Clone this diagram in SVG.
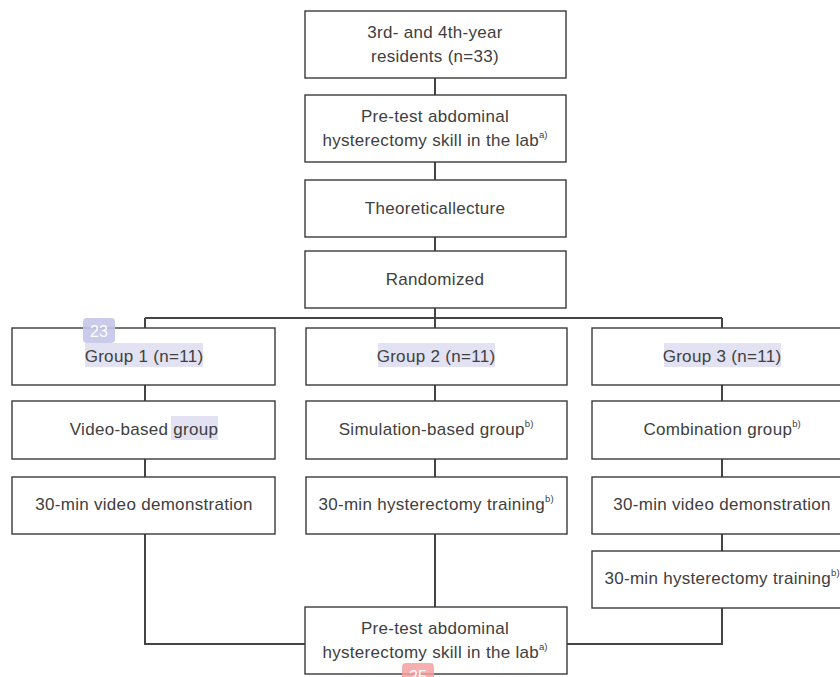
<svg xmlns="http://www.w3.org/2000/svg" width="840" height="677" viewBox="0 0 840 677">
<style>
.box{fill:#fff;stroke:#3a3a3a;stroke-width:1.4}
.t{font-family:"Liberation Sans","DejaVu Sans",sans-serif;font-size:17px;letter-spacing:0.3px;fill:#404040;text-anchor:middle}
.sup{font-size:9.5px;letter-spacing:0}
.ln{fill:none;stroke:#444;stroke-width:2}
.hl{fill:#e2e2f2}
</style>
<rect width="840" height="677" fill="#fff"/>
<g id="connectors">
<path class="ln" d="M435 78V95M435 162V180M435 237V251M435 308V318M145 318H722M145 318V328M435 318V328M722 318V328"/>
<path class="ln" d="M145 385V401M435 385V401M722 385V401M145 459V477M435 459V477M722 459V477M722 534V551"/>
<path class="ln" d="M145 534V644H306M435 534V607M722 608V644H567"/>
</g>
<g id="n1"><rect class="box" x="305" y="11" width="261" height="67"/><text class="t" x="435" y="38">3rd- and 4th-year</text><text class="t" x="435" y="62">residents (n=33)</text></g>
<g id="n2"><rect class="box" x="305" y="95" width="261" height="67"/><text class="t" x="435" y="122">Pre-test abdominal</text><text class="t" x="435" y="146">hysterectomy skill in the lab<tspan class="sup" dy="-8">a)</tspan></text></g>
<g id="n3"><rect class="box" x="305" y="180" width="261" height="57"/><text class="t" x="435" y="214">Theoreticallecture</text></g>
<g id="n4"><rect class="box" x="305" y="251" width="261" height="57"/><text class="t" x="435" y="285">Randomized</text></g>
<g id="g1"><rect class="box" x="12" y="328" width="263" height="57"/><rect class="hl" x="85" y="343" width="118" height="24"/><text class="t" x="144" y="362">Group 1 (n=11)</text></g>
<g id="g2"><rect class="box" x="306" y="328" width="261" height="57"/><rect class="hl" x="378" y="343" width="117" height="24"/><text class="t" x="436" y="362">Group 2 (n=11)</text></g>
<g id="g3"><rect class="box" x="592" y="328" width="260" height="57"/><rect class="hl" x="664" y="343" width="117" height="24"/><text class="t" x="722" y="362">Group 3 (n=11)</text></g>
<g id="v1"><rect class="box" x="12" y="401" width="263" height="58"/><rect class="hl" x="171" y="416" width="47" height="24"/><text class="t" x="144" y="435">Video-based group</text></g>
<g id="v2"><rect class="box" x="306" y="401" width="261" height="58"/><text class="t" x="436" y="435">Simulation-based group<tspan class="sup" dy="-8">b)</tspan></text></g>
<g id="v3"><rect class="box" x="592" y="401" width="260" height="58"/><text class="t" x="722" y="435">Combination group<tspan class="sup" dy="-8">b)</tspan></text></g>
<g id="w1"><rect class="box" x="12" y="477" width="263" height="57"/><text class="t" x="144" y="510">30-min video demonstration</text></g>
<g id="w2"><rect class="box" x="306" y="477" width="261" height="57"/><text class="t" x="436" y="510">30-min hysterectomy training<tspan class="sup" dy="-8">b)</tspan></text></g>
<g id="w3"><rect class="box" x="592" y="477" width="260" height="57"/><text class="t" x="722" y="510">30-min video demonstration</text></g>
<g id="x3"><rect class="box" x="592" y="551" width="260" height="57"/><text class="t" x="722" y="584">30-min hysterectomy training<tspan class="sup" dy="-8">b)</tspan></text></g>
<g id="n5"><rect class="box" x="305" y="607" width="262" height="67"/><text class="t" x="435" y="634">Pre-test abdominal</text><text class="t" x="435" y="658">hysterectomy skill in the lab<tspan class="sup" dy="-8">a)</tspan></text></g>
<g id="badge23"><rect x="83" y="318" width="32" height="25" rx="4" fill="#c4c4e8" fill-opacity="0.9"/><text x="99" y="337" font-family="Liberation Sans,sans-serif" font-size="16" fill="#fff" text-anchor="middle">23</text></g>
<g id="badge25"><rect x="402" y="663" width="32" height="25" rx="4" fill="#f5a0a0" fill-opacity="0.85"/><text x="418" y="682" font-family="Liberation Sans,sans-serif" font-size="16" fill="#fff" text-anchor="middle">25</text></g>
</svg>
